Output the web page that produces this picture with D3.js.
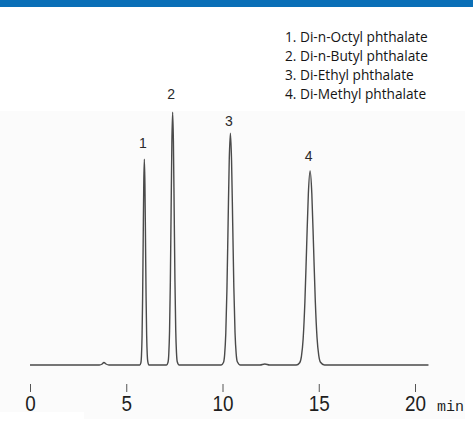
<!DOCTYPE html>
<html>
<head>
<meta charset="utf-8">
<script src="https://cdn.jsdelivr.net/npm/d3@7"></script>
<style>
  html, body { margin: 0; padding: 0; background: #ffffff; }
  svg { display: block; }
</style>
</head>
<body>
<svg id="chart" width="473" height="434"></svg>
<script>
// Compound names, numbered as they appear on the peaks
const compounds = [
  "Di-n-Octyl phthalate",
  "Di-n-Butyl phthalate",
  "Di-Ethyl phthalate",
  "Di-Methyl phthalate"
];

// Retention time (min) and height of each labelled peak (relative signal)
const peakTimes = [5.94, 7.41, 10.41, 14.55];
const peakHeights = [81.4, 100, 91.7, 76.8];

// Time-axis ticks
const tickValues = [0, 5, 10, 15, 20];
const axisUnit = "min";

// Detector trace: [time (min), signal]
const trace = [
  [0.00, 0], [3.60, 0], [3.75, 0.4], [3.84, 1.0], [3.95, 0.4], [4.10, 0],
  [5.70, 0], [5.76, 0.9], [5.79, 3.6], [5.82, 11.0], [5.85, 26.4], [5.88, 49.4],
  [5.91, 71.8], [5.94, 81.4], [5.97, 71.6], [6.00, 49.8], [6.03, 27.0],
  [6.06, 11.8], [6.09, 4.2], [6.12, 1.3], [6.18, 0],
  [7.09, 0], [7.17, 1.1], [7.21, 4.4], [7.25, 13.5], [7.29, 32.5], [7.33, 60.7],
  [7.37, 88.2], [7.41, 100], [7.45, 88.3], [7.49, 61.0], [7.53, 33.0],
  [7.57, 14.0], [7.61, 4.8], [7.65, 1.3], [7.75, 0],
  [9.93, 0], [10.05, 1.0], [10.11, 4.0], [10.17, 12.4], [10.23, 29.8],
  [10.29, 55.6], [10.35, 80.9], [10.41, 91.7], [10.47, 81.0], [10.53, 56.0],
  [10.59, 30.5], [10.65, 13.0], [10.71, 4.5], [10.77, 1.3], [10.93, 0],
  [11.95, 0], [12.20, 0.4], [12.45, 0],
  [13.83, 0], [14.01, 0.9], [14.10, 3.4], [14.19, 10.4], [14.28, 24.9],
  [14.37, 46.6], [14.46, 67.8], [14.55, 76.8], [14.64, 67.9], [14.73, 46.9],
  [14.82, 25.4], [14.91, 10.9], [15.00, 3.8], [15.09, 1.1], [15.30, 0],
  [20.70, 0]
];

// How far each peak number sits above its apex (px)
const labelLift = [11, 13, 7, 10];

const svg = d3.select("#chart");
const W = 473;

// Header band
svg.append("rect").attr("x", 0).attr("y", 0).attr("width", W).attr("height", 7)
  .attr("fill", "#0a6fb7");

// Plot panel background
svg.append("rect").attr("x", 0).attr("y", 111).attr("width", 465).attr("height", 308)
  .attr("fill", "#fbfbfb");
svg.append("rect").attr("x", 0).attr("y", 412).attr("width", 84).attr("height", 7)
  .attr("fill", "#ffffff");

const x = d3.scaleLinear().domain([0, 20]).range([30, 415]);
const y = d3.scaleLinear().domain([0, 100]).range([365, 112.3]);

// Trace
const line = d3.line()
  .x(d => x(d[0]))
  .y(d => y(d[1]))
  .curve(d3.curveMonotoneX);

svg.append("path")
  .datum(trace)
  .attr("d", line)
  .attr("fill", "none")
  .attr("stroke", "#4a4a4a")
  .attr("stroke-width", 1.4)
  .attr("stroke-linejoin", "round");

// Peak numbers
svg.append("g").selectAll("text")
  .data(peakTimes)
  .join("text")
  .attr("x", (d, i) => x(d) - 1.5)
  .attr("y", (d, i) => y(peakHeights[i]) - labelLift[i])
  .attr("text-anchor", "middle")
  .attr("font-family", "Liberation Sans, Arial, sans-serif")
  .attr("font-size", 14)
  .attr("fill", "#2a2a2a")
  .text((d, i) => i + 1);

// Time axis: ticks without a domain line
const axis = d3.axisBottom(x)
  .tickValues(tickValues)
  .tickSize(8)
  .tickPadding(4)
  .tickFormat(d3.format("d"));

const gAxis = svg.append("g")
  .attr("transform", "translate(0,384)")
  .call(axis);
gAxis.select(".domain").remove();
gAxis.selectAll(".tick line").attr("stroke", "#555").attr("stroke-width", 1);
gAxis.selectAll(".tick text")
  .attr("font-family", "Liberation Sans, Arial, sans-serif")
  .attr("font-size", 21)
  .attr("fill", "#1e1e1e")
  .attr("dy", null)
  .attr("y", 27 / 1.06)
  .attr("transform", "scale(0.9,1.06)");

svg.append("text")
  .attr("x", 437).attr("y", 411)
  .attr("font-family", "Liberation Mono, DejaVu Sans Mono, monospace")
  .attr("font-size", 15)
  .attr("fill", "#1e1e1e")
  .text(axisUnit);

// Compound legend
svg.append("g").selectAll("text")
  .data(compounds)
  .join("text")
  .attr("x", 285)
  .attr("y", (d, i) => 41.5 + i * 19.2)
  .attr("font-family", "Open Sans, Noto Sans, sans-serif")
  .attr("font-size", 13.7)
  .attr("fill", "#151515")
  .text((d, i) => `${i + 1}. ${d}`);
</script>
</body>
</html>
